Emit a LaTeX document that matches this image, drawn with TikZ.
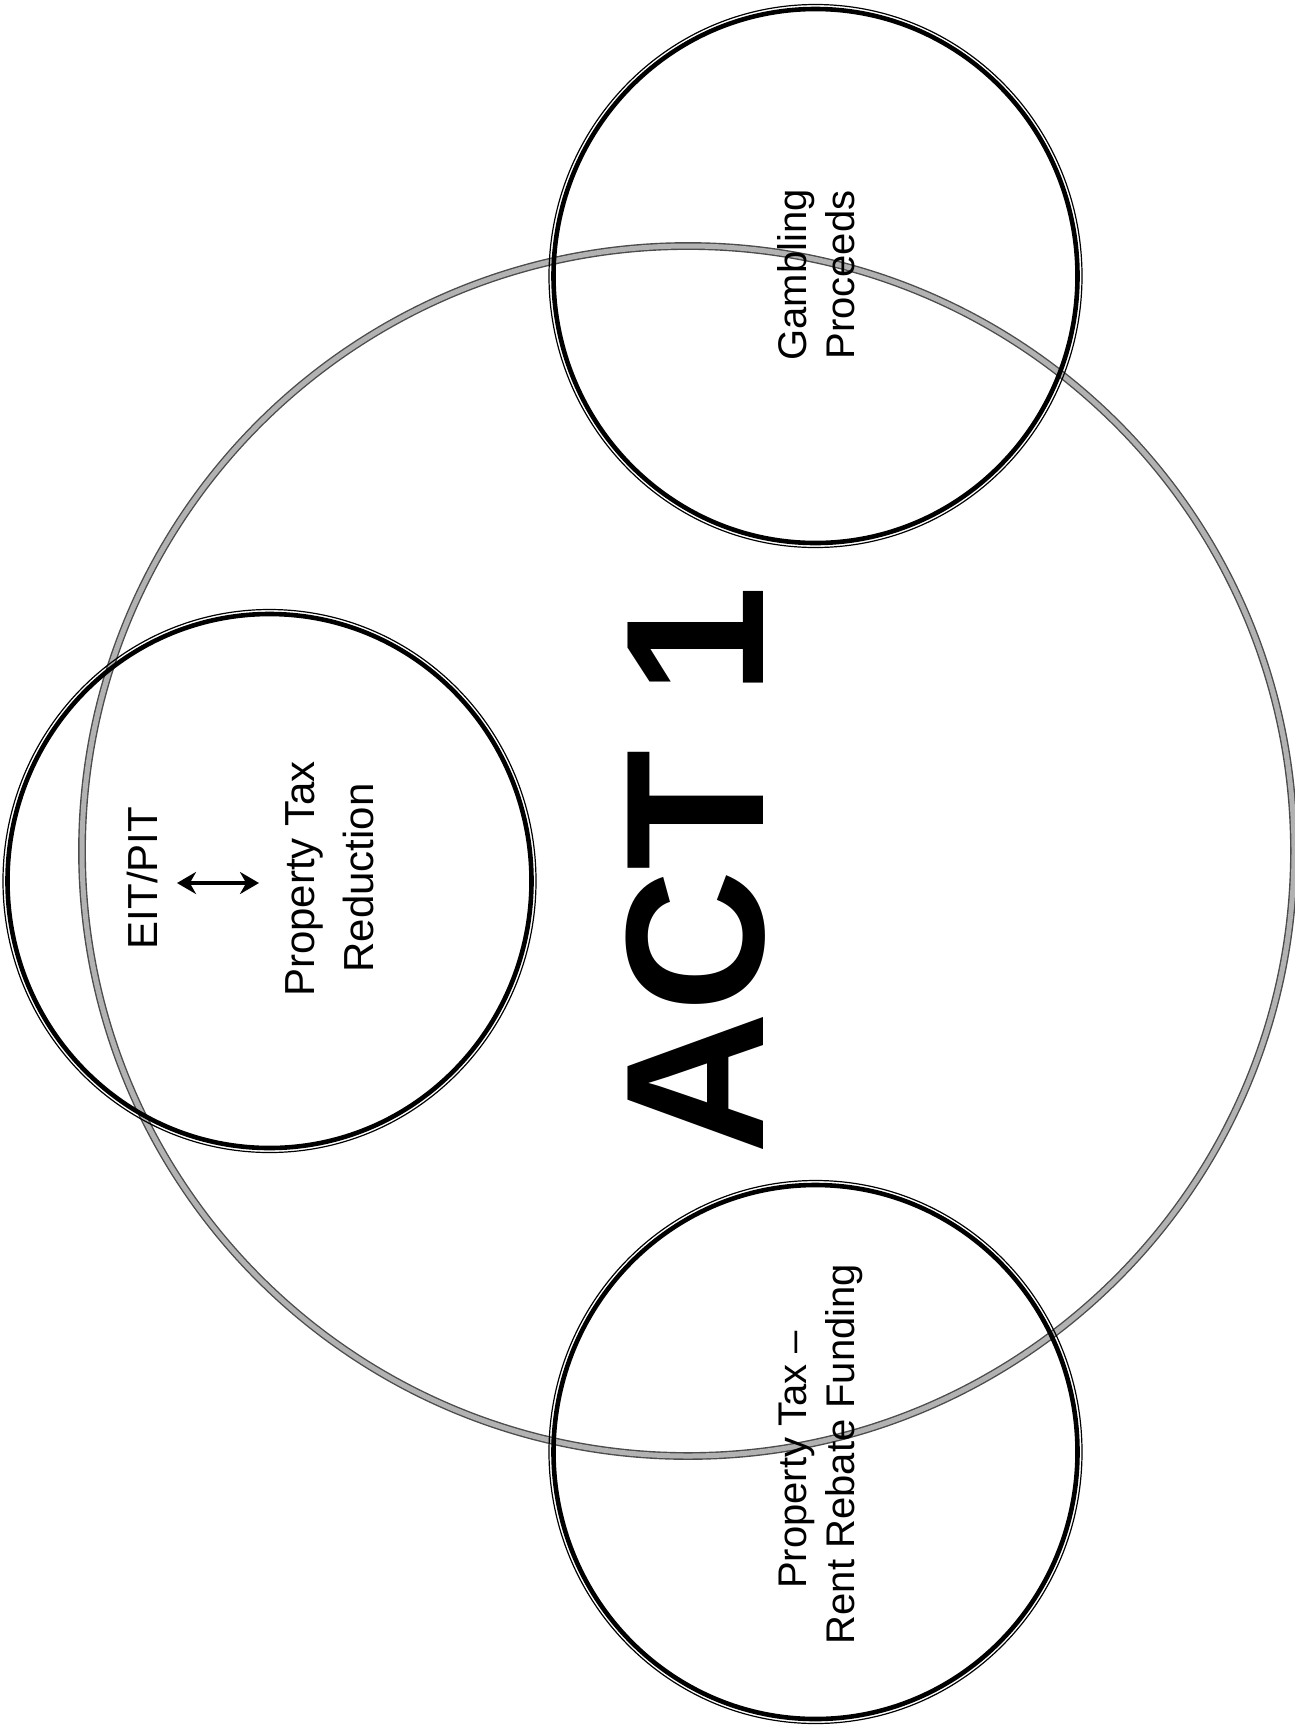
\documentclass[tikz,border=0pt]{standalone}
\usepackage{fontspec}
\setmainfont{Liberation Sans}
\usetikzlibrary{arrows.meta,shapes.geometric}
\begin{document}
\begin{tikzpicture}[x=1pt,y=-1pt,
  bigring/.style={ellipse,minimum width=1212pt,minimum height=1210pt,inner sep=0pt,outer sep=0pt,
    draw=black!70,line width=1.4pt,double=black!30,double distance=5pt},
  ring/.style={ellipse,minimum width=524pt,minimum height=534pt,inner sep=0pt,outer sep=0pt,
    draw=black,line width=4.6pt},
  ringouter/.style={draw=black,line width=1.2pt},
  lbl/.style={rotate=90,anchor=base,inner sep=0pt,font=\fontsize{40}{48}\selectfont},
  lblb/.style={rotate=90,anchor=base,inner sep=0pt,font=\fontsize{42}{50}\selectfont},
  bigtitle/.style={rotate=90,anchor=base,inner sep=0pt,font=\bfseries\fontsize{197}{236}\selectfont}]
\useasboundingbox (0,0) rectangle (1295,1725);
\fill[white] (0,0) rectangle (1295,1725);
% large circle
\node[bigring] (act) at (688,851) {};
% small circles
\node[ring] (eit) at (269.5,881) {};
\node[ring] (gam) at (815.5,276) {};
\node[ring] (rent) at (815.5,1452) {};
\draw[ringouter] (eit.center) ellipse [x radius=266.5pt,y radius=271.5pt];
\draw[ringouter] (gam.center) ellipse [x radius=266.5pt,y radius=271.5pt];
\draw[ringouter] (rent.center) ellipse [x radius=266.5pt,y radius=271.5pt];
% title
\node[bigtitle] (title) at (763,870) {ACT 1};
% gambling
\node[lbl] (g1) at (806,275) {Gambling};
\node[lbl] (g2) at (854,275) {Proceeds};
% rent rebate
\node[lbl] (r1) at (806,1460) {Property Tax –};
\node[lbl] (r2) at (854,1454) {Rent Rebate Funding};
% EIT/PIT
\node[lblb] (e1) at (157,878) {EIT/PIT};
\coordinate (aL) at (177,883);
\coordinate (aR) at (259,883);
\draw[line width=4.5pt,{Stealth[length=19pt,width=22pt]}-{Stealth[length=19pt,width=22pt]}] (aL) -- (aR);
\node[lblb] (e2) at (314,879) {Property Tax};
\node[lblb] (e3) at (373,878) {Reduction};
\end{tikzpicture}
\end{document}
